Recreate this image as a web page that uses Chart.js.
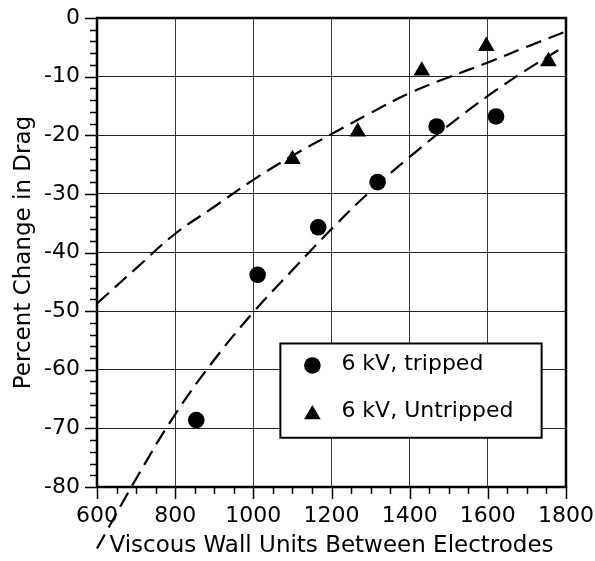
<!DOCTYPE html>
<html>
<head>
<meta charset="utf-8">
<script src="https://cdn.jsdelivr.net/npm/chart.js@4/dist/chart.umd.min.js"></script>
<style>
  html, body { margin: 0; padding: 0; background: #fff; }
  #wrap { width: 595px; height: 561px; }
</style>
</head>
<body>
<div id="wrap"><canvas id="dragChart" width="595" height="561"></canvas></div>
<script>
// measured points
const trippedX = [854, 1011, 1166, 1318, 1469, 1621];
const trippedY = [-68.6, -43.8, -35.7, -28.0, -18.5, -16.8];
const untrippedX = [1100, 1267, 1431, 1596, 1755];
const untrippedY = [-24.1, -19.4, -9.0, -4.8, -7.4];

// dashed fit curves, every 100 units
const fitX = [600, 700, 800, 900, 1000, 1100, 1200, 1300, 1400, 1500, 1600, 1700, 1800];
const fitTripped = [-90.5, -78.6, -67.6, -58.3, -50.2, -43.0, -36.0, -29.5, -23.7, -18.3, -13.3, -8.8, -4.7];
const fitUntripped = [-48.7, -42.7, -36.8, -32.2, -27.6, -23.5, -19.8, -16.2, -12.8, -10.1, -7.6, -4.9, -2.3];

const xMin = 600, xMax = 1800, xMajor = 200, xMinor = 50;
const yMin = -80, yMax = 0, yMajor = 10, yMinor = 2;

const FONT = "'DejaVu Sans', sans-serif";

const pairs = (xs, ys) => xs.map((x, i) => ({ x: x, y: ys[i] }));

// ticks outside the axes: long ones at labels, short ones between
const axisTicks = {
  id: "axisTicks",
  afterDraw(chart) {
    const ctx = chart.ctx;
    const xs = chart.scales.x, ys = chart.scales.y;
    const area = chart.chartArea;
    ctx.save();
    ctx.strokeStyle = "#000";
    ctx.lineWidth = 1.5;
    ctx.beginPath();
    for (let v = xMin; v <= xMax; v += xMinor) {
      const px = Math.round(xs.getPixelForValue(v)) + 0.5;
      const len = v % xMajor === 0 ? 12 : 7;
      ctx.moveTo(px, area.bottom);
      ctx.lineTo(px, area.bottom + len);
    }
    for (let v = yMin; v <= yMax; v += yMinor) {
      const py = Math.round(ys.getPixelForValue(v)) + 0.5;
      const len = v % yMajor === 0 ? 12 : 7;
      ctx.moveTo(area.left, py);
      ctx.lineTo(area.left - len, py);
    }
    ctx.stroke();
    ctx.lineWidth = 2.5;
    ctx.strokeRect(area.left, area.top, area.right - area.left, area.bottom - area.top);
    ctx.restore();
  }
};

// boxed legend sitting inside the plot
const boxLegend = {
  id: "boxLegend",
  afterDraw(chart) {
    const ctx = chart.ctx;
    const area = chart.chartArea;
    const w = area.right - area.left, h = area.bottom - area.top;
    const left = area.left + w * 0.391, right = area.left + w * 0.948;
    const top = area.top + h * 0.694, bottom = area.top + h * 0.895;
    ctx.save();
    ctx.fillStyle = "#fff";
    ctx.fillRect(left, top, right - left, bottom - top);
    ctx.strokeStyle = "#000";
    ctx.lineWidth = 2;
    ctx.strokeRect(left, top, right - left, bottom - top);

    const symX = left + 32;
    const row1 = top + 21, row2 = top + 68;
    ctx.fillStyle = "#000";
    ctx.beginPath();
    ctx.arc(symX, row1 + 1, 8.3, 0, Math.PI * 2);
    ctx.fill();
    const r = 9.6;
    ctx.beginPath();
    ctx.moveTo(symX, row2 + 3 - r);
    ctx.lineTo(symX + r * Math.sqrt(3) / 2, row2 + 3 + r / 2);
    ctx.lineTo(symX - r * Math.sqrt(3) / 2, row2 + 3 + r / 2);
    ctx.closePath();
    ctx.fill();

    ctx.font = "22px " + FONT;
    ctx.textBaseline = "middle";
    ctx.textAlign = "left";
    ctx.fillText(chart.data.datasets[0].label, left + 61, row1);
    ctx.fillText(chart.data.datasets[1].label, left + 61, row2);
    ctx.restore();
  }
};

const dashedLine = {
  type: "line",
  showLine: true,
  borderColor: "#000",
  borderWidth: 2.2,
  borderDash: [16, 8],
  pointRadius: 0,
  pointHoverRadius: 0,
  tension: 0.4,
  fill: false
};

new Chart(document.getElementById("dragChart"), {
  type: "scatter",
  data: {
    datasets: [
      {
        label: "6 kV, tripped",
        data: pairs(trippedX, trippedY),
        pointStyle: "circle",
        pointRadius: 8.3,
        backgroundColor: "#000",
        borderColor: "#000",
        borderWidth: 0
      },
      {
        label: "6 kV, Untripped",
        data: pairs(untrippedX, untrippedY),
        pointStyle: "triangle",
        pointRadius: 9.6,
        backgroundColor: "#000",
        borderColor: "#000",
        borderWidth: 0
      },
      Object.assign({}, dashedLine, {
        label: "fit tripped",
        data: pairs(fitX, fitTripped),
        clip: false
      }),
      Object.assign({}, dashedLine, {
        label: "fit untripped",
        data: pairs(fitX, fitUntripped)
      })
    ]
  },
  options: {
    responsive: false,
    animation: false,
    layout: {
      padding: { top: 18, right: 29, bottom: 0, left: 0 }
    },
    plugins: {
      legend: { display: false },
      tooltip: { enabled: false }
    },
    scales: {
      x: {
        type: "linear",
        min: xMin,
        max: xMax,
        afterFit: scale => { scale.height = 74; },
        ticks: {
          stepSize: xMajor,
          color: "#000",
          padding: 0,
          maxRotation: 0,
          font: { family: FONT, size: 22 },
          callback: value => String(value)
        },
        grid: { color: "#3a3a3a", lineWidth: 1, drawTicks: true, tickLength: 16, tickColor: "transparent" },
        border: { display: false },
        title: {
          display: true,
          text: "Viscous Wall Units Between Electrodes",
          color: "#000",
          font: { family: FONT, size: 23 },
          padding: { top: 0, bottom: 1 }
        }
      },
      y: {
        type: "linear",
        min: yMin,
        max: yMax,
        afterFit: scale => { scale.width = 97; },
        ticks: {
          stepSize: yMajor,
          color: "#000",
          padding: 0,
          font: { family: FONT, size: 22 },
          callback: value => String(value)
        },
        grid: { color: "#222", lineWidth: 1, drawTicks: true, tickLength: 17, tickColor: "transparent" },
        border: { display: false },
        title: {
          display: true,
          text: "Percent Change in Drag",
          color: "#000",
          font: { family: FONT, size: 23 },
          padding: { top: 10, bottom: 0 }
        }
      }
    }
  },
  plugins: [axisTicks, boxLegend]
});
</script>
</body>
</html>
